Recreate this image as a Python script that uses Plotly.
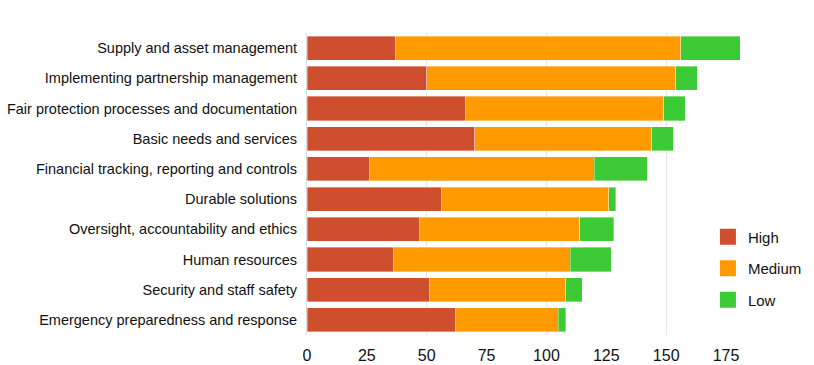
import plotly.graph_objects as go

categories = [
    "Supply and asset management",
    "Implementing partnership management",
    "Fair protection processes and documentation",
    "Basic needs and services",
    "Financial tracking, reporting and controls",
    "Durable solutions",
    "Oversight, accountability and ethics",
    "Human resources",
    "Security and staff safety",
    "Emergency preparedness and response",
]
high = [37, 50, 66, 70, 26, 56, 47, 36, 51, 62]
medium = [119, 104, 83, 74, 94, 70, 67, 74, 57, 43]
low = [25, 9, 9, 9, 22, 3, 14, 17, 7, 3]

series = [("High", high, "#CF4E2E"), ("Medium", medium, "#FF9A00"), ("Low", low, "#3DCB35")]
x_ticks = [0, 25, 50, 75, 100, 125, 150, 175]

FONT = "Liberation Sans, Arial, sans-serif"

fig = go.Figure()
for name, vals, color in series:
    fig.add_trace(go.Bar(
        y=categories, x=vals, name=name, orientation="h",
        marker=dict(color=color, line=dict(width=0.6, color="rgba(255,255,255,0.6)")),
        showlegend=False,
    ))
for name, vals, color in series:
    fig.add_trace(go.Scatter(
        x=[None], y=[None], mode="markers", name=name, legendgroup=name,
        marker=dict(symbol="square", size=16, color=color),
    ))
# invisible trace to activate the gridline axis
fig.add_trace(go.Scatter(x=[None], y=[None], xaxis="x2", showlegend=False, hoverinfo="skip"))

fig.update_layout(
    width=814, height=365,
    margin=dict(l=307, r=64, t=33, b=30, autoexpand=False),
    barmode="stack", bargap=0.2,
    plot_bgcolor="white", paper_bgcolor="white",
    font=dict(family=FONT, size=14.5, color="#111111"),
    xaxis=dict(range=[0, 185], tickvals=x_ticks, ticktext=[str(v) for v in x_ticks],
               showgrid=False, zeroline=False, ticks="", tickfont=dict(size=16),
               ticklabelstandoff=9, automargin=False),
    xaxis2=dict(range=[0, 185], overlaying="x", dtick=50, tick0=0, showgrid=True,
                gridcolor="#e6e6e6", gridwidth=1, showticklabels=False, zeroline=False),
    yaxis=dict(autorange="reversed", showline=True, linecolor="#d9d9d9",
               ticks="", ticklabelstandoff=6, tickfont=dict(size=14.5), automargin=False),
    legend=dict(x=0.905, xanchor="left", y=0.22, yanchor="middle",
                tracegroupgap=9, font=dict(size=15), bgcolor="rgba(0,0,0,0)"),
)
fig.write_html("out.html")
